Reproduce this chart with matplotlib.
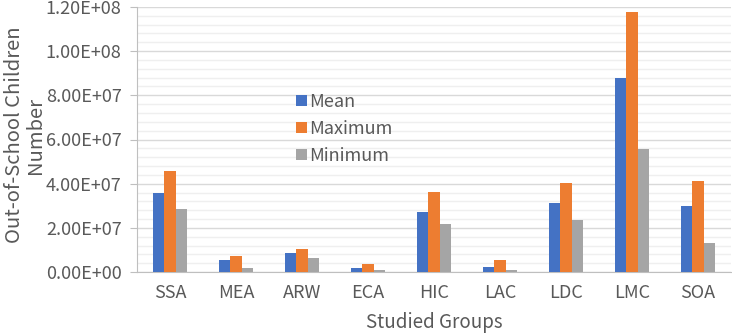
import matplotlib
matplotlib.use("Agg")
import matplotlib.pyplot as plt
import numpy as np
from matplotlib.ticker import MultipleLocator, FuncFormatter

groups = ["SSA", "MEA", "ARW", "ECA", "HIC", "LAC", "LDC", "LMC", "SOA"]
mean_vals = [3.57e7, 5.3e6, 8.5e6, 2.0e6, 2.73e7, 2.4e6, 3.11e7, 8.79e7, 3.00e7]
max_vals = [4.57e7, 7.4e6, 1.06e7, 3.6e6, 3.61e7, 5.3e6, 4.03e7, 1.178e8, 4.12e7]
min_vals = [2.84e7, 1.7e6, 6.2e6, 0.8e6, 2.17e7, 0.8e6, 2.35e7, 5.57e7, 1.31e7]

txt = "#595959"
plt.rcParams['font.family'] = ['Noto Sans CJK SC', 'DejaVu Sans']

fig = plt.figure(figsize=(7.32, 3.34), dpi=100)
ax = fig.add_axes([137 / 732, 1 - 272 / 334, 594 / 732, 265 / 334])

x = np.arange(len(groups))
w = 0.167
ax.bar(x - w, mean_vals, w, color="#4472C4", label="Mean", zorder=3)
ax.bar(x, max_vals, w, color="#ED7D31", label="Maximum", zorder=3)
ax.bar(x + w, min_vals, w, color="#A5A5A5", label="Minimum", zorder=3)

ax.set_xlim(-0.5, len(groups) - 0.5)
ax.set_ylim(0, 1.2e8)
ax.yaxis.set_major_locator(MultipleLocator(2e7))
ax.yaxis.set_minor_locator(MultipleLocator(4e6))


def sci(v, pos):
    return "%.2E" % v


ax.yaxis.set_major_formatter(FuncFormatter(sci))
ax.grid(axis="y", which="major", color="#d9d9d9", lw=1, zorder=0)
ax.grid(axis="y", which="minor", color="#efefef", lw=1, zorder=0)
ax.set_xticks(x)
ax.set_xticklabels(groups)
ax.tick_params(axis="x", length=0, pad=9, labelsize=13, colors=txt)
ax.tick_params(axis="y", which="major", length=5, color="#bfbfbf", labelsize=13, labelcolor=txt, pad=6)
ax.tick_params(axis="y", which="minor", length=0)
for s in ["top", "right"]:
    ax.spines[s].set_visible(False)
ax.spines["left"].set_color("#bfbfbf")
ax.spines["bottom"].set_color("#bfbfbf")

ax.set_xlabel("Studied Groups", fontsize=13.5, color=txt, labelpad=7)
fig.text(0.034, 1 - 135 / 334, "Out-of-School Children\nNumber", rotation=90,
         ha="center", va="center", fontsize=14.5, color=txt, linespacing=1.0)

leg = ax.legend(loc="upper left", bbox_to_anchor=(287 / 732, 1 - 84 / 334),
                bbox_transform=fig.transFigure, frameon=False, fontsize=13,
                handlelength=0.6, handleheight=0.6, handletextpad=0.15,
                labelspacing=0.5, borderpad=0)
for t in leg.get_texts():
    t.set_color(txt)

fig.savefig("out.png", dpi=100)
